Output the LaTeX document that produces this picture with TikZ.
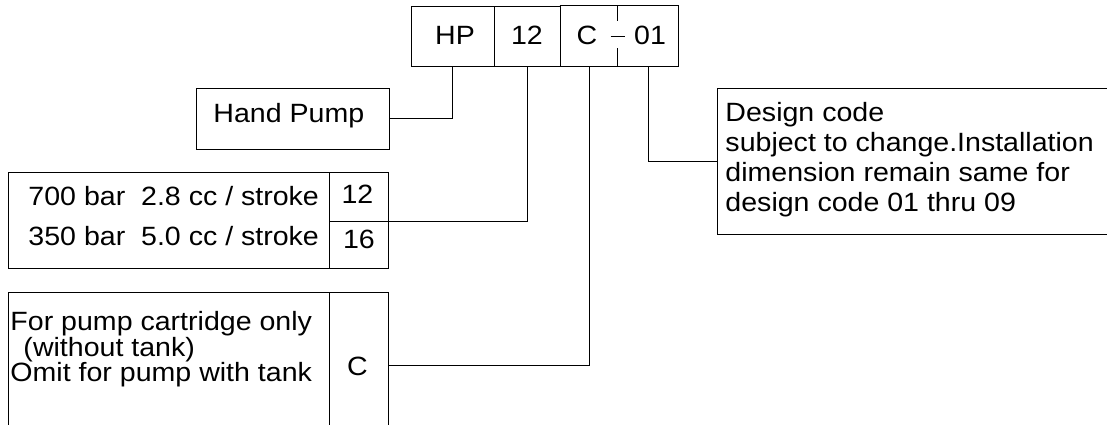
\documentclass[tikz,border=0pt]{standalone}
\usepackage{fontspec}
\setmainfont{Liberation Sans}[FakeStretch=1.08]
\usepackage{tikz}

\begin{document}
\begin{tikzpicture}[x=0.025cm, y=-0.025cm, line width=0.7pt,
  font=\fontsize{18.8}{24}\selectfont]
\tikzset{
  box/.style={draw, inner sep=0pt},
  cell/.style={inner sep=0pt},
  txt/.style={inner sep=0pt, anchor=base west},
  num/.style={inner sep=0pt, anchor=base}
}
\clip (0,0) rectangle (1107,425);

% model code
\node[box, minimum width=83*0.025cm, minimum height=60*0.025cm] (hp) at (452.5,36) {};
\node[box, minimum width=66*0.025cm, minimum height=60*0.025cm] (n12) at (527,36) {};
\node[cell, minimum width=58*0.025cm, minimum height=60*0.025cm] (cc) at (589,36) {};
\node[cell, minimum width=60*0.025cm, minimum height=60*0.025cm] (n01) at (648,36) {};
\node[num] (thp) at (455,45) {HP};
\node[num] (t12top) at (527,45) {12};
\node[num] (tctop) at (587,45) {C};
\node[num] (t01) at (650,45) {01};
\draw (cc.north west) -- (n01.north east) -- (n01.south east) -- (cc.south west);
\draw (n01.north west) -- ++(0,15);
\draw (n01.south west) -- ++(0,-18);
\draw ([xshift=-7*0.025cm]n01.west) -- ([xshift=7*0.025cm]n01.west);

% hand pump
\node[box, minimum width=193*0.025cm, minimum height=61*0.025cm] (hand) at (292.5,118.5) {};
\node[txt] (handtxt) at (213,123) {Hand Pump};

% pressure / flow
\node[box, minimum width=321*0.025cm, minimum height=96*0.025cm] (press) at (168.5,220) {};
\node[box, minimum width=59*0.025cm, minimum height=49*0.025cm] (p12) at (358.5,196.5) {};
\node[box, minimum width=59*0.025cm, minimum height=47*0.025cm] (p16) at (358.5,244.5) {};
\node[txt] (l700) at (28,206) {700 bar\ \ 2.8 cc / stroke};
\node[txt] (l350) at (28,245.5) {350 bar\ \ 5.0 cc / stroke};
\node[num] (t12) at (357.5,204) {12};
\node[num] (t16) at (359,249) {16};

% cartridge
\node[box, minimum width=321*0.025cm, minimum height=152*0.025cm] (cart) at (168.5,368) {};
\node[box, minimum width=59*0.025cm, minimum height=146*0.025cm] (cartc) at (358.5,365) {};
\node[txt] (lfor) at (10,331) {For pump cartridge only};
\node[txt] (lwith) at (23,357) {(without tank)};
\node[txt] (lomit) at (10,381.5) {Omit for pump with tank};
\node[num] (tc) at (357.5,376) {C};

% design code
\node[box, minimum width=403*0.025cm, minimum height=146*0.025cm] (design) at (918.5,161) {};
\foreach \y/\t in {122/Design code, 152/subject to change.Installation,
  182/dimension remain same for, 212/design code 01 thru 09}
  \node[txt] at (725,\y) {\t};

% leaders
\draw (hp.south) |- (hand.east);
\draw (n12.south) |- (p12.south east);
\draw (cc.south) |- (cartc.east);
\draw (n01.south) |- (design.west);
\end{tikzpicture}
\end{document}
